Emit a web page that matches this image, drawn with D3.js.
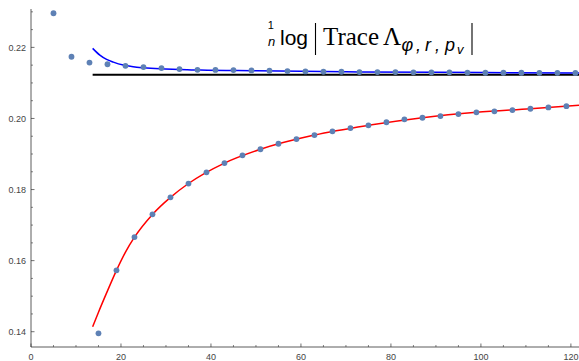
<!DOCTYPE html>
<html>
<head>
<meta charset="utf-8">
<script src="https://cdn.jsdelivr.net/npm/d3@7"></script>
<style>
  body { margin: 0; background: #fff; }
  svg { display: block; }
  .tick-label { font-family: "Liberation Sans", Arial, sans-serif; font-size: 9px; fill: #444; }
  .sub { font-family: "Liberation Sans", Arial, sans-serif; font-style: italic; }
</style>
</head>
<body>
<div id="chart"></div>
<script>
// points of the upper sequence (log trace / n)
const upperN = [5, 9, 13, 17, 21, 25, 29, 33, 37, 41, 45, 49, 53, 57, 61, 65, 69, 73, 77, 81, 85, 89, 93, 97, 101, 105, 109, 113, 117, 121];
const upperV = [0.2296, 0.21736, 0.21572, 0.21525, 0.21480, 0.21446, 0.21418, 0.21390, 0.21370, 0.21367, 0.21361, 0.21353, 0.21342, 0.21333, 0.21325,
  0.21314, 0.21314, 0.21305, 0.21305, 0.21305, 0.21297, 0.21297, 0.21297, 0.21292, 0.21286, 0.21286, 0.21286, 0.21283, 0.21283, 0.21280];

// points of the lower sequence
const lowerN = [15, 19, 23, 27, 31, 35, 39, 43, 47, 51, 55, 59, 63, 67, 71, 75, 79, 83, 87, 91, 95, 99, 103, 107, 111, 115, 119];
const lowerV = [0.13955, 0.15727, 0.16664, 0.17302, 0.17781, 0.18169, 0.18484, 0.18745, 0.18962, 0.19134, 0.19288, 0.19421, 0.19533, 0.19637,
  0.19730, 0.19806, 0.19893, 0.19975, 0.20020, 0.20068, 0.20124, 0.20172, 0.20200, 0.20236, 0.20273, 0.20312, 0.20346];

const blueN = [13.7, 15.3, 16.8, 18.3, 20.5, 22.7, 25, 28.7, 33, 37.6, 50, 70, 90, 121.8];
const blueV = [0.21972, 0.21783, 0.21662, 0.21586, 0.21502, 0.21454, 0.21426, 0.21398, 0.21381, 0.21361, 0.21342, 0.21314, 0.21297, 0.21280];

const redN = [13.7, 15, 17, 19, 21, 23, 27, 31, 35, 43, 51, 63, 75, 87, 99, 111, 121.8];
const redV = [0.1414, 0.1455, 0.1515, 0.15727, 0.1624, 0.1666, 0.1730, 0.1778, 0.1817, 0.18745, 0.19134, 0.19533, 0.19806, 0.2002, 0.20172, 0.20273, 0.2037];

const blackN = [13.7, 121.8];
const blackV = [0.2123, 0.2123];

const xTicks = [0, 20, 40, 60, 80, 100, 120];
const yTicks = [0.14, 0.16, 0.18, 0.20, 0.22];
const yTickLabels = ["0.14", "0.16", "0.18", "0.20", "0.22"];

const width = 579, height = 361;
const margin = {top: 9, right: 0, bottom: 14, left: 31};

const svg = d3.select("#chart").append("svg")
  .attr("width", width)
  .attr("height", height);

const x = d3.scaleLinear().domain([0, 121.8]).range([margin.left, width - margin.right]);
const y = d3.scaleLinear().domain([0.1357, 0.2308]).range([height - margin.bottom, margin.top]);

svg.append("clipPath").attr("id", "plot")
  .append("rect")
  .attr("x", margin.left).attr("y", margin.top)
  .attr("width", width - margin.left - margin.right)
  .attr("height", height - margin.top - margin.bottom);

// ---- axes (Mathematica style: ticks pointing inward) ----
const axisColor = "#333";
const x0 = x.range()[0], yBottom = y.range()[0];

const xMinor = d3.range(0, 121, 5).filter(v => !xTicks.includes(v));
const yMinor = d3.range(0.14, 0.2309, 0.005).filter(v => !yTicks.some(t => Math.abs(t - v) < 1e-6));

const gx = svg.append("g").attr("class", "x-axis");
gx.append("line")
  .attr("x1", x0).attr("x2", width).attr("y1", yBottom).attr("y2", yBottom)
  .attr("stroke", axisColor).attr("stroke-width", 0.8);
gx.selectAll(".major").data(xTicks).enter().append("line")
  .attr("class", "major")
  .attr("x1", d => x(d)).attr("x2", d => x(d))
  .attr("y1", yBottom).attr("y2", yBottom - 3.5)
  .attr("stroke", axisColor).attr("stroke-width", 0.7);
gx.selectAll(".minor").data(xMinor).enter().append("line")
  .attr("class", "minor")
  .attr("x1", d => x(d)).attr("x2", d => x(d))
  .attr("y1", yBottom).attr("y2", yBottom - 2)
  .attr("stroke", axisColor).attr("stroke-width", 0.6);
gx.selectAll("text").data(xTicks).enter().append("text")
  .attr("class", "tick-label")
  .attr("x", d => x(d)).attr("y", 360)
  .attr("text-anchor", "middle")
  .text(d => d);

const gy = svg.append("g").attr("class", "y-axis");
gy.append("line")
  .attr("x1", x0).attr("x2", x0).attr("y1", yBottom).attr("y2", margin.top)
  .attr("stroke", axisColor).attr("stroke-width", 0.8);
gy.selectAll(".major").data(yTicks).enter().append("line")
  .attr("class", "major")
  .attr("x1", x0).attr("x2", x0 + 3.5)
  .attr("y1", d => y(d)).attr("y2", d => y(d))
  .attr("stroke", axisColor).attr("stroke-width", 0.7);
gy.selectAll(".minor").data(yMinor).enter().append("line")
  .attr("class", "minor")
  .attr("x1", x0).attr("x2", x0 + 2)
  .attr("y1", d => y(d)).attr("y2", d => y(d))
  .attr("stroke", axisColor).attr("stroke-width", 0.6);
gy.selectAll("text").data(yTicks).enter().append("text")
  .attr("class", "tick-label")
  .attr("x", 26).attr("y", d => y(d))
  .attr("dy", "0.35em")
  .attr("text-anchor", "end")
  .text((d, i) => yTickLabels[i]);

// ---- curves ----
const line = d3.line()
  .x(d => x(d[0]))
  .y(d => y(d[1]))
  .curve(d3.curveMonotoneX);

const curves = [
  {n: blackN, v: blackV, color: "#000", w: 2},
  {n: blueN, v: blueV, color: "#0000ff", w: 1.5},
  {n: redN, v: redV, color: "#ff0000", w: 1.5}
];

svg.append("g").attr("clip-path", "url(#plot)")
  .selectAll("path").data(curves).enter().append("path")
  .attr("d", c => line(c.n.map((n, i) => [n, c.v[i]])))
  .attr("fill", "none")
  .attr("stroke", c => c.color)
  .attr("stroke-width", c => c.w);

// ---- points ----
const pts = upperN.map((n, i) => [n, upperV[i]])
  .concat(lowerN.map((n, i) => [n, lowerV[i]]));

svg.append("g")
  .selectAll("circle").data(pts).enter().append("circle")
  .attr("cx", d => x(d[0]))
  .attr("cy", d => y(d[1]))
  .attr("r", 2.9)
  .attr("fill", "#5e81b5");

// ---- title: 1/n log |Trace Λ_{φ,r,p_v}| ----
const sans = "'Liberation Sans', Arial, sans-serif";
const serif = "'Liberation Serif', 'Times New Roman', serif";
const title = svg.append("g").attr("class", "title");

title.append("text").attr("x", 270.7).attr("y", 29)
  .attr("text-anchor", "middle")
  .style("font-family", sans).style("font-size", "11px")
  .text("1");
title.append("text").attr("x", 271.5).attr("y", 45.5)
  .attr("text-anchor", "middle")
  .style("font-family", sans).style("font-size", "13px").style("font-style", "italic")
  .text("n");
title.append("text").attr("x", 280).attr("y", 44.5)
  .style("font-family", sans).style("font-size", "21px")
  .text("log");

title.append("line")
  .attr("x1", 315.5).attr("x2", 315.5).attr("y1", 23).attr("y2", 55)
  .attr("stroke", "#000").attr("stroke-width", 1.1);

const t = title.append("text").attr("x", 323).attr("y", 44.5)
  .style("font-family", serif).style("font-size", "25px");
t.append("tspan").text("Trace");
t.append("tspan").attr("dx", 4).text("Λ");

// subscript pieces, spaced out like the typeset original
const subs = [
  {s: "φ", x: 401.5, y: 50.5, size: 18},
  {s: ",", x: 416, y: 50.5, size: 18},
  {s: "r", x: 425, y: 50.5, size: 18},
  {s: ",", x: 435, y: 50.5, size: 18},
  {s: "p", x: 445, y: 50.5, size: 18},
  {s: "v", x: 457, y: 54, size: 13}
];
title.selectAll(".sub").data(subs).enter().append("text")
  .attr("class", "sub")
  .attr("x", d => d.x).attr("y", d => d.y)
  .style("font-size", d => d.size + "px")
  .text(d => d.s);

title.append("line")
  .attr("x1", 472).attr("x2", 472).attr("y1", 23).attr("y2", 55)
  .attr("stroke", "#000").attr("stroke-width", 1.1);
</script>
</body>
</html>
